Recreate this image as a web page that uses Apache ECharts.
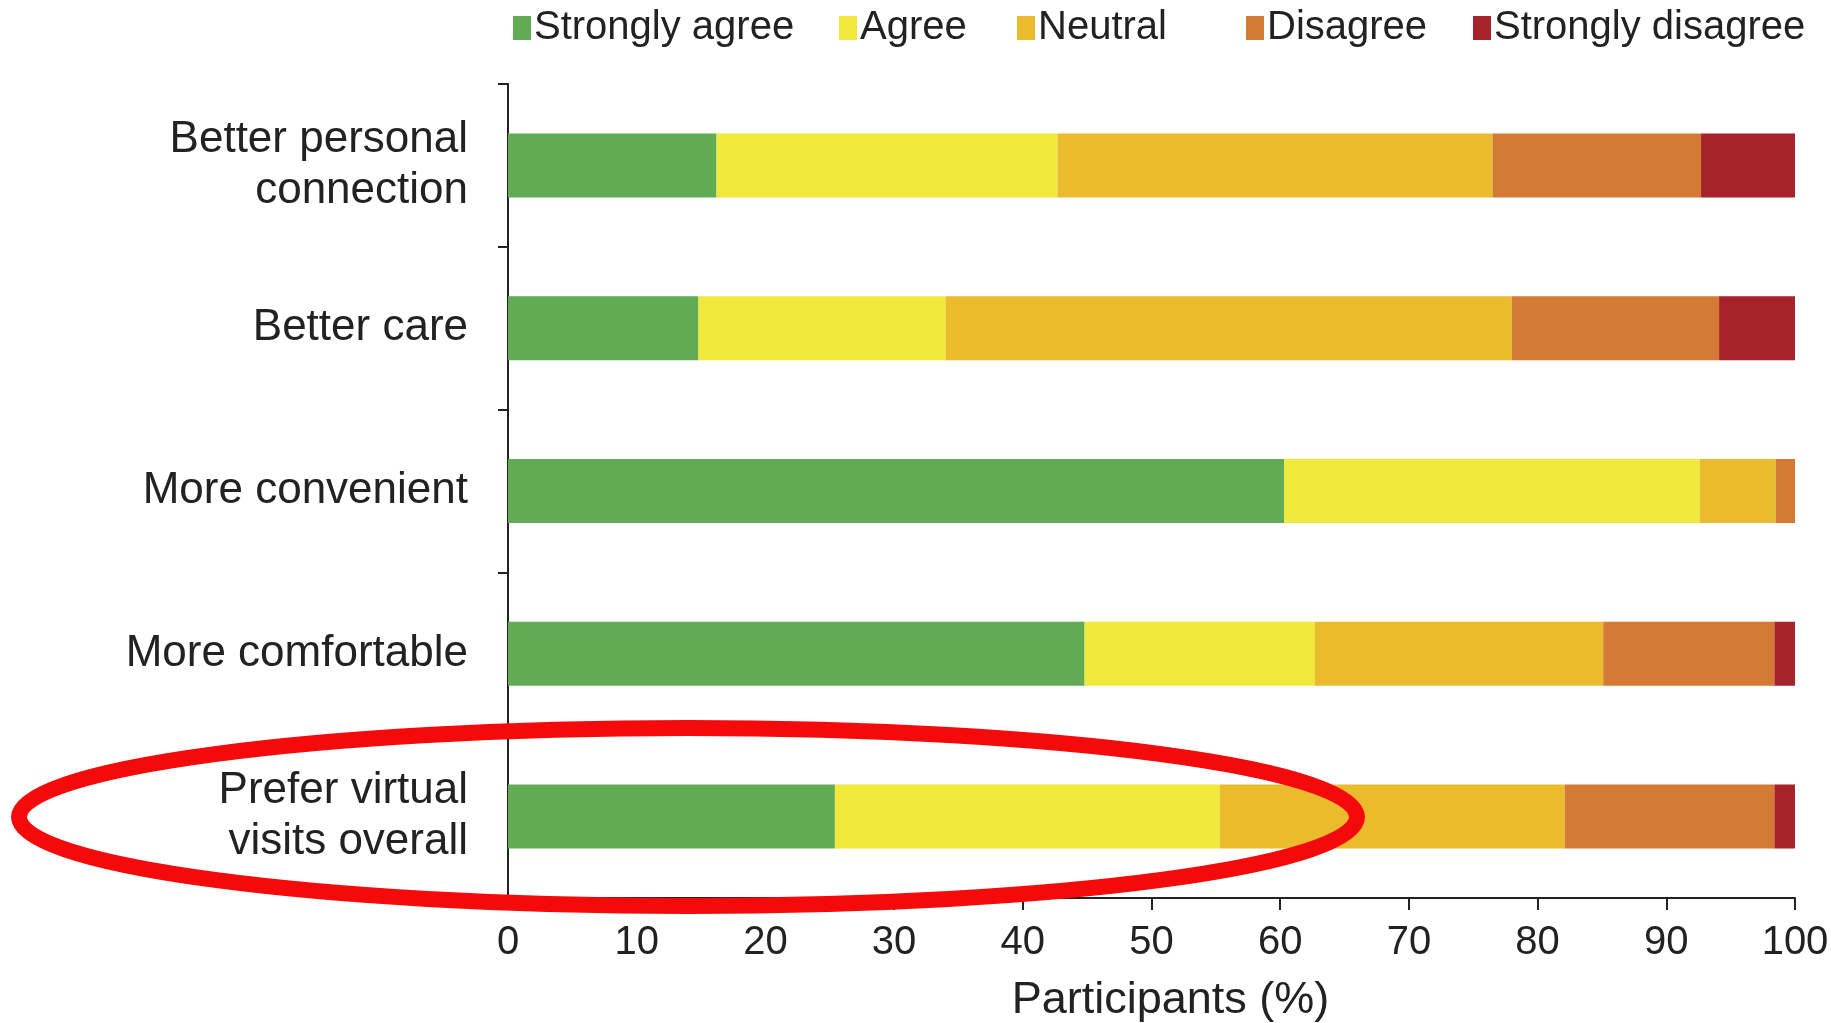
<!DOCTYPE html>
<html>
<head>
<meta charset="utf-8">
<script src="https://cdn.jsdelivr.net/npm/echarts@6/dist/echarts.min.js"></script>
<style>html,body{margin:0;padding:0;background:#fff}#c{width:1831px;height:1023px}</style>
</head>
<body>
<div id="c"></div>
<script>
const categories = ["Better personal\nconnection", "Better care", "More convenient", "More comfortable", "Prefer virtual\nvisits overall"];
const seriesNames = ["Strongly agree", "Agree", "Neutral", "Disagree", "Strongly disagree"];
const stronglyAgree = [16.2, 14.8, 60.3, 44.8, 25.4];
const agree = [26.5, 19.2, 32.3, 17.9, 29.9];
const neutral = [33.8, 44.0, 5.9, 22.4, 26.8];
const disagree = [16.2, 16.1, 1.5, 13.3, 16.3];
const stronglyDisagree = [7.3, 5.9, 0, 1.6, 1.6];
const xTicks = [0, 10, 20, 30, 40, 50, 60, 70, 80, 90, 100];
const colors = ["#62AB55", "#F0E83A", "#EBBB2E", "#D57A35", "#A6232A"];

const values = [stronglyAgree, agree, neutral, disagree, stronglyDisagree];
const font = "'Liberation Sans', Arial, sans-serif";
const legendLefts = [508, 834, 1012, 1241, 1468];

const chart = echarts.init(document.getElementById('c'));
chart.setOption({
  animation: false,
  backgroundColor: '#fff',
  color: colors,
  grid: { left: 508, right: 36, top: 84, bottom: 125, containLabel: false, outerBoundsMode: 'none' },
  legend: seriesNames.map((n, i) => ({
    data: [n], left: legendLefts[i], top: 3, itemWidth: 18, itemHeight: 24, itemGap: 0,
    icon: 'rect',
    textStyle: { fontFamily: font, fontSize: 40, color: '#222', padding: [0,0,0,-2] }
  })),
  xAxis: {
    type: 'value', min: 0, max: 100, interval: 10,
    axisLine: { show: true, lineStyle: { color: '#222', width: 2 } },
    axisTick: { show: true, length: 12, lineStyle: { color: '#222', width: 2 } },
    splitLine: { show: false },
    axisLabel: { fontFamily: font, fontSize: 40, color: '#222', margin: 25,
      formatter: v => xTicks.includes(v) ? String(v) : '' },
    name: 'Participants (%)', nameLocation: 'middle', nameGap: 80,
    nameTextStyle: { fontFamily: font, fontSize: 45, color: '#222', padding: [0,0,0,38] }
  },
  yAxis: {
    type: 'category', data: categories, inverse: true,
    axisLine: { show: true, lineStyle: { color: '#222', width: 2 } },
    axisTick: { show: true, length: 10, alignWithLabel: false, lineStyle: { color: '#222', width: 2 } },
    axisLabel: { fontFamily: font, fontSize: 44, color: '#222', margin: 40, align: 'right', lineHeight: 51 }
  },
  series: seriesNames.map((n, i) => ({
    name: n, type: 'bar', stack: 'total', barWidth: 64,
    itemStyle: { color: colors[i] },
    data: values[i]
  })),
  graphic: [{
    type: 'ellipse', z: 100,
    shape: { cx: 688, cy: 817, rx: 669, ry: 89 },
    style: { fill: 'none', stroke: '#F40A0A', lineWidth: 16 }
  }]
});
</script>
</body>
</html>
